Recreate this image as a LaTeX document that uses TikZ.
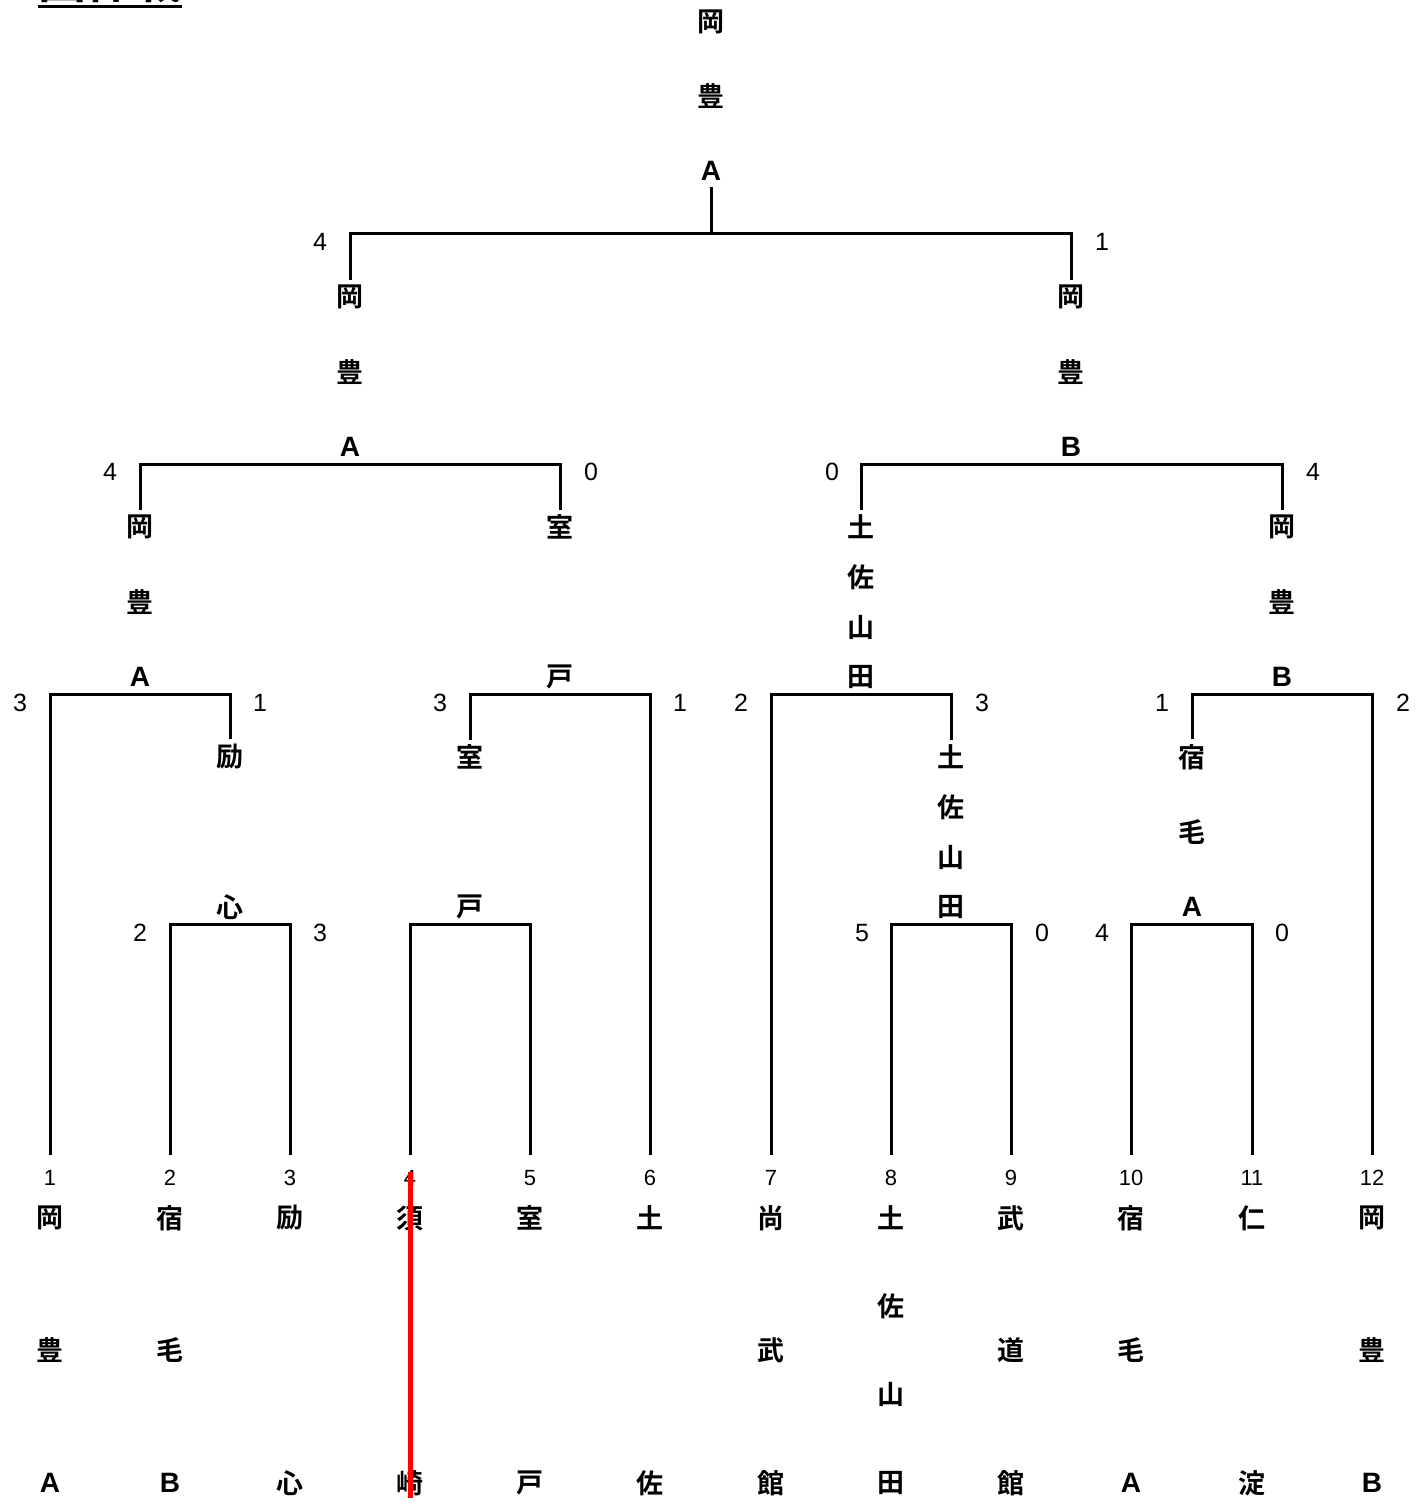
\documentclass[tikz,border=0pt]{standalone}
\usepackage{fontspec}
\newfontfamily\jp{Noto Sans CJK JP}[BoldFont={Noto Sans CJK JP Bold}]
\newfontfamily\lat{Liberation Sans}
\newcommand\LA[1]{{\lat\bfseries\fontsize{28}{28}\selectfont #1}}
\tikzset{
  ch/.style={font=\jp\bfseries\fontsize{27}{27}\selectfont, inner sep=0pt},
  score/.style={font=\lat\fontsize{25}{25}\selectfont, inner sep=0pt},
  lnum/.style={font=\lat\fontsize{22}{22}\selectfont, inner sep=0pt},
  br/.style={line width=3pt, line join=miter},
  titlestyle/.style={font=\jp\bfseries\fontsize{48}{48}\selectfont, inner sep=0pt},
  redline/.style={line width=5pt, draw={rgb,255:red,255;green,0;blue,0}}
}
% vertical stack of characters: #1 id, #2 x, #3 y of first char, #4 span, #5 list
\newcommand\vtext[5]{%
  \gdef\vcount{0}%
  \foreach \c in {#5}{\xdef\vcount{\the\numexpr\vcount+1\relax}}%
  \foreach \c [count=\i] in {#5}{%
    \ifnum\vcount=1 \def\yy{#3}\else
      \pgfmathsetmacro\yy{#3+(\i-1)*#4/(\vcount-1)}\fi
    \node[ch] (#1-\i) at (#2,\yy) {\c};
  }%
}
\begin{document}
\begin{tikzpicture}[x=1pt,y=-1pt]
\useasboundingbox (0,0) rectangle (1416,1503);

% title (cut off at top)
\node[titlestyle, anchor=south] (title) at (110,3.5) {団体戦};
\draw[line width=3pt] ([yshift=-3pt]title.south west) -- ([yshift=-3pt]title.south east);

% ---------- leaves ----------
\foreach \n/\x in {1/50,2/170,3/290,4/410,5/530,6/650,7/771,8/891,9/1011,10/1131,11/1252,12/1372}{
  \node[lnum] (num\n) at (\x,1178) {\n};
  \coordinate (e\n) at ([yshift=15pt]num\n.north);
}
\vtext{l1}{50}{1218}{265}{岡,豊,\LA A}
\vtext{l2}{170}{1218}{265}{宿,毛,\LA B}
\vtext{l3}{290}{1218}{265}{励,心}
\vtext{l4}{410}{1218}{265}{須,崎}
\vtext{l5}{530}{1218}{265}{室,戸}
\vtext{l6}{650}{1218}{265}{土,佐}
\vtext{l7}{771}{1218}{265}{尚,武,館}
\vtext{l8}{891}{1218}{265}{土,佐,山,田}
\vtext{l9}{1011}{1218}{265}{武,道,館}
\vtext{l10}{1131}{1218}{265}{宿,毛,\LA A}
\vtext{l11}{1252}{1218}{265}{仁,淀}
\vtext{l12}{1372}{1218}{265}{岡,豊,\LA B}

% ---------- round 1 (y=924) ----------
\coordinate (b23) at (230,924);
\coordinate (b45) at (470,924);
\coordinate (b89) at (951,924);
\coordinate (b1011) at (1192,924);
\draw[br] (e2) |- (b23) -| (e3);
\draw[br] (e4) |- (b45) -| (e5);
\draw[br] (e8) |- (b89) -| (e9);
\draw[br] (e10) |- (b1011) -| (e11);
\vtext{w23}{230}{757}{150}{励,心}
\vtext{w45}{470}{757}{150}{室,戸}
\vtext{w89}{951}{757}{150}{土,佐,山,田}
\vtext{w1011}{1192}{757}{150}{宿,毛,\LA A}
\node[score] (s2) at (140,933) {2};
\node[score] (s3) at (320,933) {3};
\node[score] (s8) at (862,933) {5};
\node[score] (s9) at (1042,933) {0};
\node[score] (s10) at (1102,933) {4};
\node[score] (s11) at (1282,933) {0};

% ---------- round 2 (y=694) ----------
\coordinate (c1) at (140,694);
\coordinate (c2) at (560,694);
\coordinate (c3) at (861,694);
\coordinate (c4) at (1282,694);
\draw[br] (e1) |- (c1) -| ([yshift=5pt]w23-1.north);
\draw[br] ([yshift=5pt]w45-1.north) |- (c2) -| (e6);
\draw[br] (e7) |- (c3) -| ([yshift=5pt]w89-1.north);
\draw[br] ([yshift=5pt]w1011-1.north) |- (c4) -| (e12);
\vtext{wc1}{140}{527}{150}{岡,豊,\LA A}
\vtext{wc2}{560}{527}{150}{室,戸}
\vtext{wc3}{861}{527}{150}{土,佐,山,田}
\vtext{wc4}{1282}{527}{150}{岡,豊,\LA B}
\node[score] (t1a) at (20,703) {3};
\node[score] (t1b) at (260,703) {1};
\node[score] (t2a) at (440,703) {3};
\node[score] (t2b) at (680,703) {1};
\node[score] (t3a) at (741,703) {2};
\node[score] (t3b) at (982,703) {3};
\node[score] (t4a) at (1162,703) {1};
\node[score] (t4b) at (1403,703) {2};

% ---------- round 3 (y=464) ----------
\coordinate (d1) at (350,464);
\coordinate (d2) at (1071,464);
\draw[br] ([yshift=5pt]wc1-1.north) |- (d1) -| ([yshift=5pt]wc2-1.north);
\draw[br] ([yshift=5pt]wc3-1.north) |- (d2) -| ([yshift=5pt]wc4-1.north);
\vtext{wd1}{350}{297}{150}{岡,豊,\LA A}
\vtext{wd2}{1071}{297}{150}{岡,豊,\LA B}
\node[score] (u1a) at (110,472) {4};
\node[score] (u1b) at (591,472) {0};
\node[score] (u2a) at (832,472) {0};
\node[score] (u2b) at (1313,472) {4};

% ---------- final (y=234) ----------
\coordinate (f) at (711,234);
\vtext{champ}{711}{22}{149}{岡,豊,\LA A}
\draw[br] ([yshift=5pt]wd1-1.north) |- (f) -| ([yshift=5pt]wd2-1.north);
\draw[br] (f) -- ([yshift=-6pt]champ-3.south);
\node[score] (v1) at (320,242) {4};
\node[score] (v2) at (1102,242) {1};

% red strike line
\draw[redline] ([yshift=-2pt]num4.north) -- ([yshift=-2pt]l4-2.south);
\end{tikzpicture}
\end{document}
